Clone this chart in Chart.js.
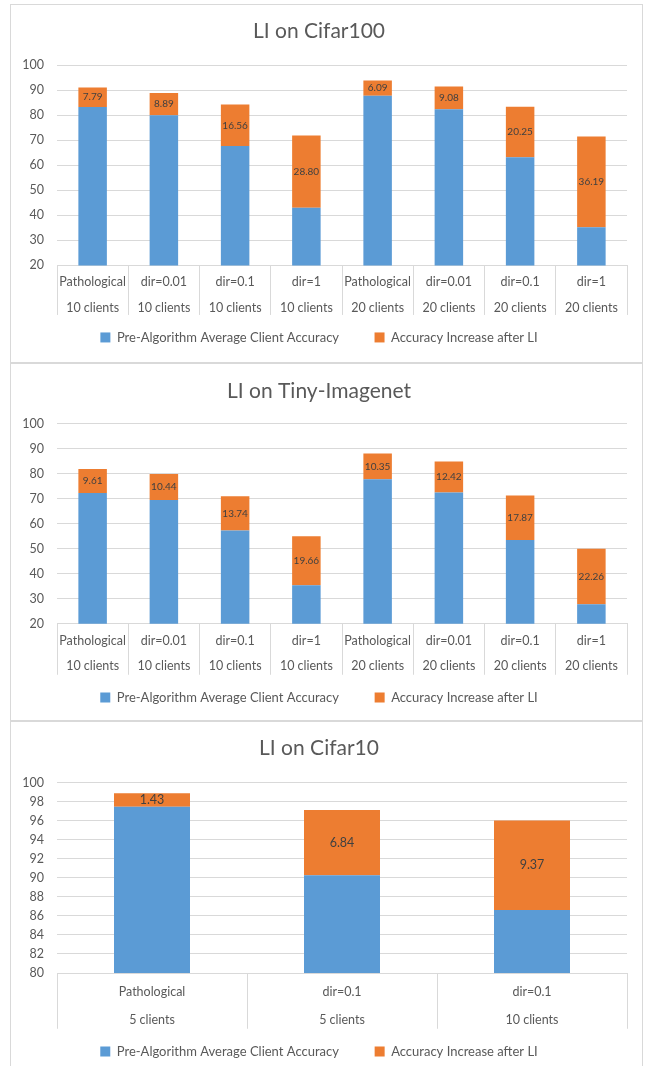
<!DOCTYPE html>
<html>
<head>
<meta charset="utf-8">
<script src="https://cdn.jsdelivr.net/npm/chart.js@4.4.1/dist/chart.umd.min.js"></script>
<style>
  html, body { margin: 0; padding: 0; background: #fff; overflow: hidden; }
  .panel {
    position: absolute;
    left: 10px;
    width: 633px;
    box-sizing: border-box;
    border: 1px solid #d9d9d9;
    overflow: hidden;
    background: #fff;
  }
  canvas { display: block; }
</style>
</head>
<body>
<div class="panel" style="top:4px;height:359px"><canvas id="cifar100" width="631" height="356"></canvas></div>
<div class="panel" style="top:363px;height:358px"><canvas id="tiny" width="631" height="356"></canvas></div>
<div class="panel" style="top:721px;height:352px"><canvas id="cifar10" width="631" height="347"></canvas></div>

<script>
// data
const seriesNames = ["Pre-Algorithm Average Client Accuracy", "Accuracy Increase after LI"];

const cifar100Labels = [
  ["Pathological", "10 clients"], ["dir=0.01", "10 clients"], ["dir=0.1", "10 clients"], ["dir=1", "10 clients"],
  ["Pathological", "20 clients"], ["dir=0.01", "20 clients"], ["dir=0.1", "20 clients"], ["dir=1", "20 clients"]
];
const cifar100Pre = [83.3, 80.0, 67.7, 43.1, 87.8, 82.4, 63.2, 35.3];
const cifar100Gain = [7.79, 8.89, 16.56, 28.80, 6.09, 9.08, 20.25, 36.19];

const tinyLabels = cifar100Labels;
const tinyPre = [72.3, 69.5, 57.3, 35.4, 77.8, 72.5, 53.5, 27.8];
const tinyGain = [9.61, 10.44, 13.74, 19.66, 10.35, 12.42, 17.87, 22.26];

const cifar10Labels = [["Pathological", "5 clients"], ["dir=0.1", "5 clients"], ["dir=0.1", "10 clients"]];
const cifar10Pre = [97.45, 90.27, 86.63];
const cifar10Gain = [1.43, 6.84, 9.37];

const BLUE = "#5b9bd5";
const ORANGE = "#ed7d31";
const TEXT = "#595959";
const GRID = "#d9d9d9";
const FONT = "Lato, 'Open Sans', sans-serif";

// writes the increase value in the middle of each orange segment
function gainLabelPlugin(size) {
  return {
    id: "gainLabels",
    afterDatasetsDraw(chart) {
      const meta = chart.getDatasetMeta(1);
      const values = chart.data.datasets[1].data;
      const ctx = chart.ctx;
      ctx.save();
      ctx.font = size + "px " + FONT;
      ctx.fillStyle = "#404040";
      ctx.textAlign = "center";
      ctx.textBaseline = "middle";
      meta.data.forEach((bar, i) => {
        ctx.fillText(values[i].toFixed(2), bar.x, (bar.y + bar.base) / 2);
      });
      ctx.restore();
    }
  };
}

// legend padding is shared by both directions, so widen the gap between items with spaces
function legendItems(chart) {
  const items = Chart.defaults.plugins.legend.labels.generateLabels(chart);
  items[0].text += "\u2002\u2002\u2002";
  return items;
}

function createChart(canvasId, c) {
  const ctx = document.getElementById(canvasId).getContext("2d");
  new Chart(ctx, {
    type: "bar",
    data: {
      labels: c.labels,
      datasets: [
        { label: seriesNames[0], data: c.pre, backgroundColor: BLUE, barPercentage: 0.4, categoryPercentage: 1 },
        { label: seriesNames[1], data: c.gain, backgroundColor: ORANGE, barPercentage: 0.4, categoryPercentage: 1 }
      ]
    },
    options: {
      responsive: false,
      animation: false,
      layout: { padding: { left: 0, right: 15, top: 0, bottom: c.padBottom } },
      plugins: {
        title: {
          display: true,
          text: c.title,
          color: TEXT,
          font: { family: FONT, size: 21, weight: "normal" },
          padding: { top: c.titleTop, bottom: c.titleBottom }
        },
        legend: {
          position: "bottom",
          labels: {
            color: TEXT,
            font: { family: FONT, size: 13 },
            boxWidth: 10,
            boxHeight: 10,
            padding: c.legendPad,
            generateLabels: legendItems
          }
        },
        tooltip: { enabled: false }
      },
      scales: {
        x: {
          stacked: true,
          offset: true,
          border: { display: true, color: GRID },
          grid: {
            offset: true,
            drawOnChartArea: false,
            drawTicks: true,
            tickLength: c.xHeight,
            color: GRID
          },
          ticks: {
            color: TEXT,
            font: { family: FONT, size: 12.5, lineHeight: c.lineH + "px" },
            padding: c.tickPad,
            autoSkip: false,
            maxRotation: 0,
            minRotation: 0
          },
          afterFit(scale) {
            scale.height = c.xHeight;
            scale.paddingLeft = 0;
            scale.paddingRight = 0;
          }
        },
        y: {
          stacked: true,
          min: c.min,
          max: c.max,
          border: { display: false },
          grid: { color: GRID, drawTicks: false },
          ticks: {
            stepSize: c.step,
            color: TEXT,
            font: { family: FONT, size: 12.5 },
            padding: 13
          },
          afterFit(scale) {
            scale.width = 46;
          }
        }
      }
    },
    plugins: [gainLabelPlugin(c.valueSize)]
  });
}

createChart("cifar100", {
  title: "LI on Cifar100",
  labels: cifar100Labels, pre: cifar100Pre, gain: cifar100Gain,
  min: 20, max: 100, step: 10,
  titleTop: 13.7, titleBottom: 21.3,
  xHeight: 49.5, tickPad: -46, lineH: 25.7,
  legendPad: 16, padBottom: 7.05, valueSize: 10
});

createChart("tiny", {
  title: "LI on Tiny-Imagenet",
  labels: tinyLabels, pre: tinyPre, gain: tinyGain,
  min: 20, max: 100, step: 10,
  titleTop: 14.7, titleBottom: 20,
  xHeight: 51, tickPad: -46.5, lineH: 25,
  legendPad: 16.2, padBottom: 6.05, valueSize: 10
});

createChart("cifar10", {
  title: "LI on Cifar10",
  labels: cifar10Labels, pre: cifar10Pre, gain: cifar10Gain,
  min: 80, max: 100, step: 2,
  titleTop: 14, titleBottom: 21.3,
  xHeight: 55.7, tickPad: -50.3, lineH: 28,
  legendPad: 16.2, padBottom: 1.05, valueSize: 12.5
});
</script>
</body>
</html>
